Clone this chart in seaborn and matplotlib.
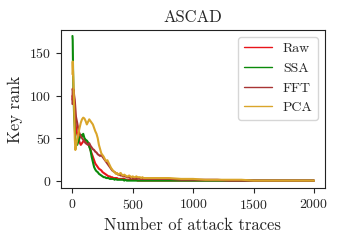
import matplotlib
matplotlib.use("Agg")
import matplotlib.pyplot as plt
import seaborn as sns
import pandas as pd

traces = [1, 3, 6, 10, 15, 20, 25, 30, 40, 50, 60, 70, 80, 90, 100, 110, 120, 130, 140, 150,
          160, 170, 180, 190, 200, 210, 220, 230, 240, 250, 260, 270, 280, 290, 300, 310, 320,
          330, 340, 350, 360, 370, 380, 390, 400, 410, 420, 430, 440, 450, 460, 470, 480, 490,
          500, 510, 520, 530, 540, 550, 560, 570, 580, 590, 600, 700, 800, 900, 1000, 1100,
          1200, 1300, 1400, 1500, 1600, 1700, 1800, 1900, 2000]

raw = [95, 100, 98, 102, 90, 80, 70, 62, 55, 50, 45, 42, 44, 46, 48, 45, 44, 43, 41, 36,
       32, 28, 24, 20, 18, 16, 14, 13, 12, 10, 9, 8, 7, 6, 5, 5, 4, 4, 3, 3,
       3, 3, 2, 2, 2, 2, 2, 2, 1, 1, 1, 1, 1, 1, 1, 1, 1, 1, 0, 0,
       0, 0, 0, 0, 0, 0, 0, 0, 0, 0, 0, 0, 0, 0, 0, 0, 0, 0, 0]

ssa = [170, 165, 130, 100, 75, 62, 48, 45, 42, 46, 50, 54, 52, 55, 50, 48, 47, 45, 40, 36,
       28, 22, 16, 13, 11, 10, 8, 7, 6, 5, 4, 4, 3, 3, 3, 2, 2, 2, 2, 1,
       2, 1, 1, 1, 1, 1, 1, 0, 1, 0, 0, 0, 0, 0, 0, 0, 0, 0, 0, 0,
       0, 0, 0, 0, 0, 0, 0, 0, 0, 0, 0, 0, 0, 0, 0, 0, 0, 0, 0]

fft = [90, 108, 105, 107, 100, 95, 85, 75, 68, 60, 55, 52, 50, 48, 46, 44, 43, 42, 44, 41,
       39, 37, 36, 34, 33, 31, 30, 29, 30, 28, 26, 24, 22, 20, 18, 16, 14, 12, 11, 10,
       9, 8, 7, 7, 6, 6, 5, 5, 5, 4, 4, 4, 3, 4, 3, 3, 3, 3, 2, 3,
       2, 2, 2, 2, 2, 2, 2, 1, 1, 1, 1, 0, 0, 0, 0, 0, 0, 0, 0]

pca = [125, 140, 128, 110, 85, 50, 36, 40, 48, 55, 62, 68, 72, 74, 73, 70, 66, 69, 72, 70,
       68, 66, 62, 58, 55, 50, 42, 37, 32, 30, 28, 25, 23, 24, 21, 18, 15, 13, 11, 10,
       8, 9, 7, 8, 9, 7, 6, 7, 6, 5, 5, 6, 5, 4, 5, 4, 4, 5, 4, 4,
       4, 3, 4, 3, 3, 3, 3, 2, 2, 1, 1, 1, 1, 0, 0, 0, 0, 0, 0]

methods = ["Raw", "SSA", "FFT", "PCA"]
colors = {"Raw": "#e8141a", "SSA": "#0a8a0a", "FFT": "#a83434", "PCA": "#daa52a"}

frames = []
for name, vals in zip(methods, [raw, ssa, fft, pca]):
    frames.append(pd.DataFrame({"traces": traces, "rank": vals, "method": name}))
df = pd.concat(frames, ignore_index=True)

sns.set_style("ticks")
plt.rcParams["font.family"] = ["cmr10", "DejaVu Serif"]
plt.rcParams["mathtext.fontset"] = "cm"
plt.rcParams["axes.formatter.use_mathtext"] = True

fig = plt.figure(figsize=(3.4, 2.4), dpi=100)
ax = fig.add_axes([0.179, 0.217, 0.777, 0.658])

sns.lineplot(data=df, x="traces", y="rank", hue="method", hue_order=methods,
             palette=colors, estimator=None, linewidth=1.5, ax=ax)

ax.set_xlim(-95, 2092)
ax.set_ylim(-8.6, 177)
ax.set_xticks([0, 500, 1000, 1500, 2000])
ax.set_yticks([0, 50, 100, 150])
ax.tick_params(labelsize=10, length=3.5, width=0.8)
for s in ax.spines.values():
    s.set_linewidth(0.8)
    s.set_color("#222222")

ax.set_xlabel("Number of attack traces", fontsize=12)
ax.set_ylabel("Key rank", fontsize=12)
ax.set_title("ASCAD", fontsize=12)

leg = ax.legend(loc="upper right", fontsize=10, title=None)
for line in leg.get_lines():
    line.set_linewidth(1.0)

fig.savefig("out.png", dpi=100)
